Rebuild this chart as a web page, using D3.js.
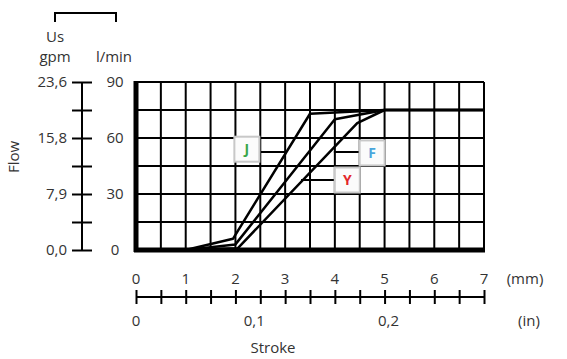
<!DOCTYPE html>
<html>
<head>
<meta charset="utf-8">
<script src="https://cdn.jsdelivr.net/npm/d3@7"></script>
<style>
  body { margin: 0; background: #fff; }
  text { font-family: 'Open Sans', 'Noto Sans', sans-serif; fill: #333; }
</style>
</head>
<body>
<svg id="chart"></svg>
<script>
// stroke in mm, flow in l/min
const strokeJ = [1, 1.95, 3.5, 5, 7];
const flowJ   = [0, 6, 73, 75, 75];
const strokeY = [1, 2, 4, 5, 7];
const flowY   = [0, 3, 70, 75, 75];
const strokeF = [1, 2.05, 4.45, 5, 7];
const flowF   = [0, 1, 68, 75, 75];

const series = [
    {name: 'J', color: '#3aa54a', xs: strokeJ, ys: flowJ, label: [2.23, 54], lead: [2.5, 3.0, 52.5]},
    {name: 'Y', color: '#e3262b', xs: strokeY, ys: flowY, label: [4.25, 37.5], lead: [3.32, 4.0, 37.5]},
    {name: 'F', color: '#4aa6dc', xs: strokeF, ys: flowF, label: [4.75, 52], lead: [3.98, 4.5, 52.5]}
];

const mmTicks = [0, 1, 2, 3, 4, 5, 6, 7];
const inTicks = [0, 0.1, 0.2];
const lminTicks = [0, 30, 60, 90];
const gpmTicks = ['0,0', '7,9', '15,8', '23,6'];

const fs = '15px';

draw_chart();

function draw_chart() {
    const svg = d3.select('#chart')
        .attr('width', 567)
        .attr('height', 359);

    const x = d3.scaleLinear().domain([0, 7]).range([136, 484]);
    const xIn = d3.scaleLinear().domain([0, 7 / 25.4]).range([136, 484]);
    const y = d3.scaleLinear().domain([0, 90]).range([250, 82]);

    /* grid */
    const gridX = d3.range(0, 7.01, 0.5);
    const gridY = d3.range(0, 90.1, 15);
    svg.append('g').selectAll('line')
        .data(gridX)
        .enter().append('line')
        .attr('x1', d => x(d)).attr('x2', d => x(d))
        .attr('y1', y(90)).attr('y2', y(0))
        .attr('stroke', '#000').attr('stroke-width', 2);
    svg.append('g').selectAll('line')
        .data(gridY)
        .enter().append('line')
        .attr('x1', x(0)).attr('x2', x(7))
        .attr('y1', d => y(d)).attr('y2', d => y(d))
        .attr('stroke', '#000').attr('stroke-width', 2);

    // thick left and bottom border
    svg.append('line')
        .attr('x1', x(0)).attr('x2', x(0))
        .attr('y1', y(90) - 1).attr('y2', y(0) + 2)
        .attr('stroke', '#000').attr('stroke-width', 5);
    svg.append('line')
        .attr('x1', x(0) - 2).attr('x2', x(7) + 1)
        .attr('y1', y(0)).attr('y2', y(0))
        .attr('stroke', '#000').attr('stroke-width', 5);

    /* curves */
    const line = d3.line()
        .x(d => x(d[0]))
        .y(d => y(d[1]));

    series.forEach(s => {
        svg.append('path')
            .datum(s.xs.map((v, i) => [v, s.ys[i]]))
            .attr('d', line)
            .attr('fill', 'none')
            .attr('stroke', '#000')
            .attr('stroke-width', 2.5)
            .attr('stroke-linejoin', 'round');
    });

    /* label leaders and boxes */
    series.forEach(s => {
        svg.append('line')
            .attr('x1', x(s.lead[0])).attr('x2', x(s.lead[1]))
            .attr('y1', y(s.lead[2])).attr('y2', y(s.lead[2]))
            .attr('stroke', '#000').attr('stroke-width', 2);
        const cx = x(s.label[0]), cy = y(s.label[1]);
        svg.append('rect')
            .attr('x', cx - 12.5).attr('y', cy - 12.5)
            .attr('width', 25).attr('height', 25)
            .attr('fill', '#fbfbfb')
            .attr('stroke', '#c8c8c8').attr('stroke-width', 2);
        svg.append('text')
            .attr('x', cx).attr('y', cy + 5)
            .attr('text-anchor', 'middle')
            .style('font-size', '14px').style('font-weight', 'bold')
            .style('fill', s.color)
            .text(s.name);
    });

    /* left flow axis */
    const yAxis = svg.append('g')
        .attr('transform', 'translate(92,0)')
        .call(d3.axisLeft(y).tickValues(gridY).tickSize(20).tickSizeOuter(0).tickFormat(''));
    yAxis.select('.domain').remove();
    yAxis.selectAll('.tick line').attr('stroke', '#000').attr('stroke-width', 2);
    svg.append('line')
        .attr('x1', 82).attr('x2', 82)
        .attr('y1', y(90)).attr('y2', y(0))
        .attr('stroke', '#000').attr('stroke-width', 2);

    svg.append('g').selectAll('text')
        .data(lminTicks)
        .enter().append('text')
        .attr('x', 115).attr('y', d => y(d) + 5)
        .attr('text-anchor', 'middle')
        .style('font-size', fs)
        .text(d => d);
    svg.append('g').selectAll('text')
        .data(gpmTicks)
        .enter().append('text')
        .attr('x', 67).attr('y', (d, i) => y(lminTicks[i]) + 5)
        .attr('text-anchor', 'end')
        .style('font-size', fs)
        .text(d => d);

    /* unit header */
    svg.append('path')
        .attr('d', 'M55,22V13H116V22')
        .attr('fill', 'none').attr('stroke', '#000').attr('stroke-width', 2);
    svg.append('text').attr('x', 55).attr('y', 42).attr('text-anchor', 'middle')
        .style('font-size', fs).text('Us');
    svg.append('text').attr('x', 55).attr('y', 62).attr('text-anchor', 'middle')
        .style('font-size', fs).text('gpm');
    svg.append('text').attr('x', 114).attr('y', 62).attr('text-anchor', 'middle')
        .style('font-size', fs).text('l/min');

    svg.append('text')
        .attr('transform', 'translate(19,157) rotate(-90)')
        .attr('text-anchor', 'middle')
        .style('font-size', fs)
        .text('Flow');

    /* bottom stroke axis */
    const xAxis = svg.append('g')
        .attr('transform', 'translate(0,290)')
        .call(d3.axisBottom(x).tickValues(gridX).tickSize(14).tickSizeOuter(0).tickFormat(''));
    xAxis.select('.domain').remove();
    xAxis.selectAll('.tick line').attr('stroke', '#000').attr('stroke-width', 2);
    svg.append('line')
        .attr('x1', x(0)).attr('x2', x(7))
        .attr('y1', 297).attr('y2', 297)
        .attr('stroke', '#000').attr('stroke-width', 2);

    svg.append('g').selectAll('text')
        .data(mmTicks)
        .enter().append('text')
        .attr('x', d => x(d)).attr('y', 284)
        .attr('text-anchor', 'middle')
        .style('font-size', fs)
        .text(d => d);
    svg.append('g').selectAll('text')
        .data(inTicks)
        .enter().append('text')
        .attr('x', d => xIn(d) - (d === 0.1 ? 8 : 0)).attr('y', 326)
        .attr('text-anchor', 'middle')
        .style('font-size', fs)
        .text(d => d === 0 ? '0' : String(d).replace('.', ','));

    svg.append('text').attr('x', 525).attr('y', 284).attr('text-anchor', 'middle')
        .style('font-size', fs).text('(mm)');
    svg.append('text').attr('x', 529).attr('y', 326).attr('text-anchor', 'middle')
        .style('font-size', fs).text('(in)');
    svg.append('text').attr('x', 273).attr('y', 353).attr('text-anchor', 'middle')
        .style('font-size', fs).text('Stroke');
}
</script>
</body>
</html>
